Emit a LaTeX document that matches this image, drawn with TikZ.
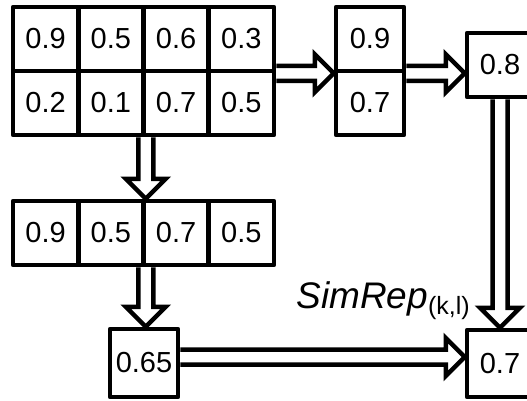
\documentclass[tikz,border=0pt]{standalone}
\usepackage{fontspec}
\setmainfont{Liberation Sans}
\usetikzlibrary{calc,backgrounds}
\newcommand\valfont{\fontsize{29}{29}\selectfont}
\tikzset{
  box/.style={draw, line width=4.5pt, line join=round, inner sep=0pt, font=\valfont},
  cell/.style={box, minimum width=65.25pt, minimum height=64pt},
  blk/.style={draw, fill=white, line width=4.5pt, line join=miter},
}
\newcommand\hblockarrow[2]{%
  \draw[blk] let \p1=(#1), \p2=(#2) in
    (\x1,\y1+7.5pt) -- (\x2-19pt,\y1+7.5pt) -- (\x2-19pt,\y1+19pt) -- (\x2,\y1)
    -- (\x2-19pt,\y1-19pt) -- (\x2-19pt,\y1-7.5pt) -- (\x1,\y1-7.5pt);}
\newcommand\vblockarrow[2]{%
  \draw[blk] let \p1=(#1), \p2=(#2) in
    (\x1-7.5pt,\y1) -- (\x1-7.5pt,\y2+20pt) -- (\x1-20pt,\y2+20pt) -- (\x1,\y2)
    -- (\x1+20pt,\y2+20pt) -- (\x1+7.5pt,\y2+20pt) -- (\x1+7.5pt,\y1);}
\begin{document}
\begin{tikzpicture}[x=1pt,y=-1pt]
\useasboundingbox (0,0) rectangle (527,400);
\clip (0,0) rectangle (527,400);
% top grid
\node[cell] (ta1) at (45.6,39) {0.9};
\node[cell] (ta2) at (110.9,39) {0.5};
\node[cell] (ta3) at (176.1,39) {0.6};
\node[cell] (ta4) at (241.4,39) {0.3};
\node[cell] (tb1) at (45.6,103) {0.2};
\node[cell] (tb2) at (110.9,103) {0.1};
\node[cell] (tb3) at (176.1,103) {0.7};
\node[cell] (tb4) at (241.4,103) {0.5};
% middle grid
\node[cell] (m1) at (45.6,233) {0.9};
\node[cell] (m2) at (110.9,233) {0.5};
\node[cell] (m3) at (176.1,233) {0.7};
\node[cell] (m4) at (241.4,233) {0.5};
% column
\node[cell, minimum width=68pt] (ca) at (370,39) {0.9};
\node[cell, minimum width=68pt] (cb) at (370,103) {0.7};
% single boxes
\node[box, minimum width=66pt, minimum height=64pt] (b08) at (500,65) {0.8};
\node[box, minimum width=68pt, minimum height=68pt] (b065) at (144,363) {0.65};
\node[box, minimum width=66pt, minimum height=67pt] (b07) at (500,363.5) {0.7};
% label
\node[anchor=base east, inner sep=0pt] (lbl) at (470,308)
  {\fontsize{37}{37}\selectfont\itshape SimRep\fontsize{25}{25}\selectfont\upshape\raisebox{-6pt}{(k,l)}};
% arrows
\begin{pgfonlayer}{background}
\hblockarrow{ta4.south east}{ca.south west}
\hblockarrow{ca.south east}{b08.west}
\vblockarrow{tb2.south east}{m3.north west}
\vblockarrow{m2.south east}{b065.north}
\hblockarrow{$(b065.east)+(0,-6)$}{b07.west}
\vblockarrow{b08.south}{b07.north}
\end{pgfonlayer}
\end{tikzpicture}
\end{document}
